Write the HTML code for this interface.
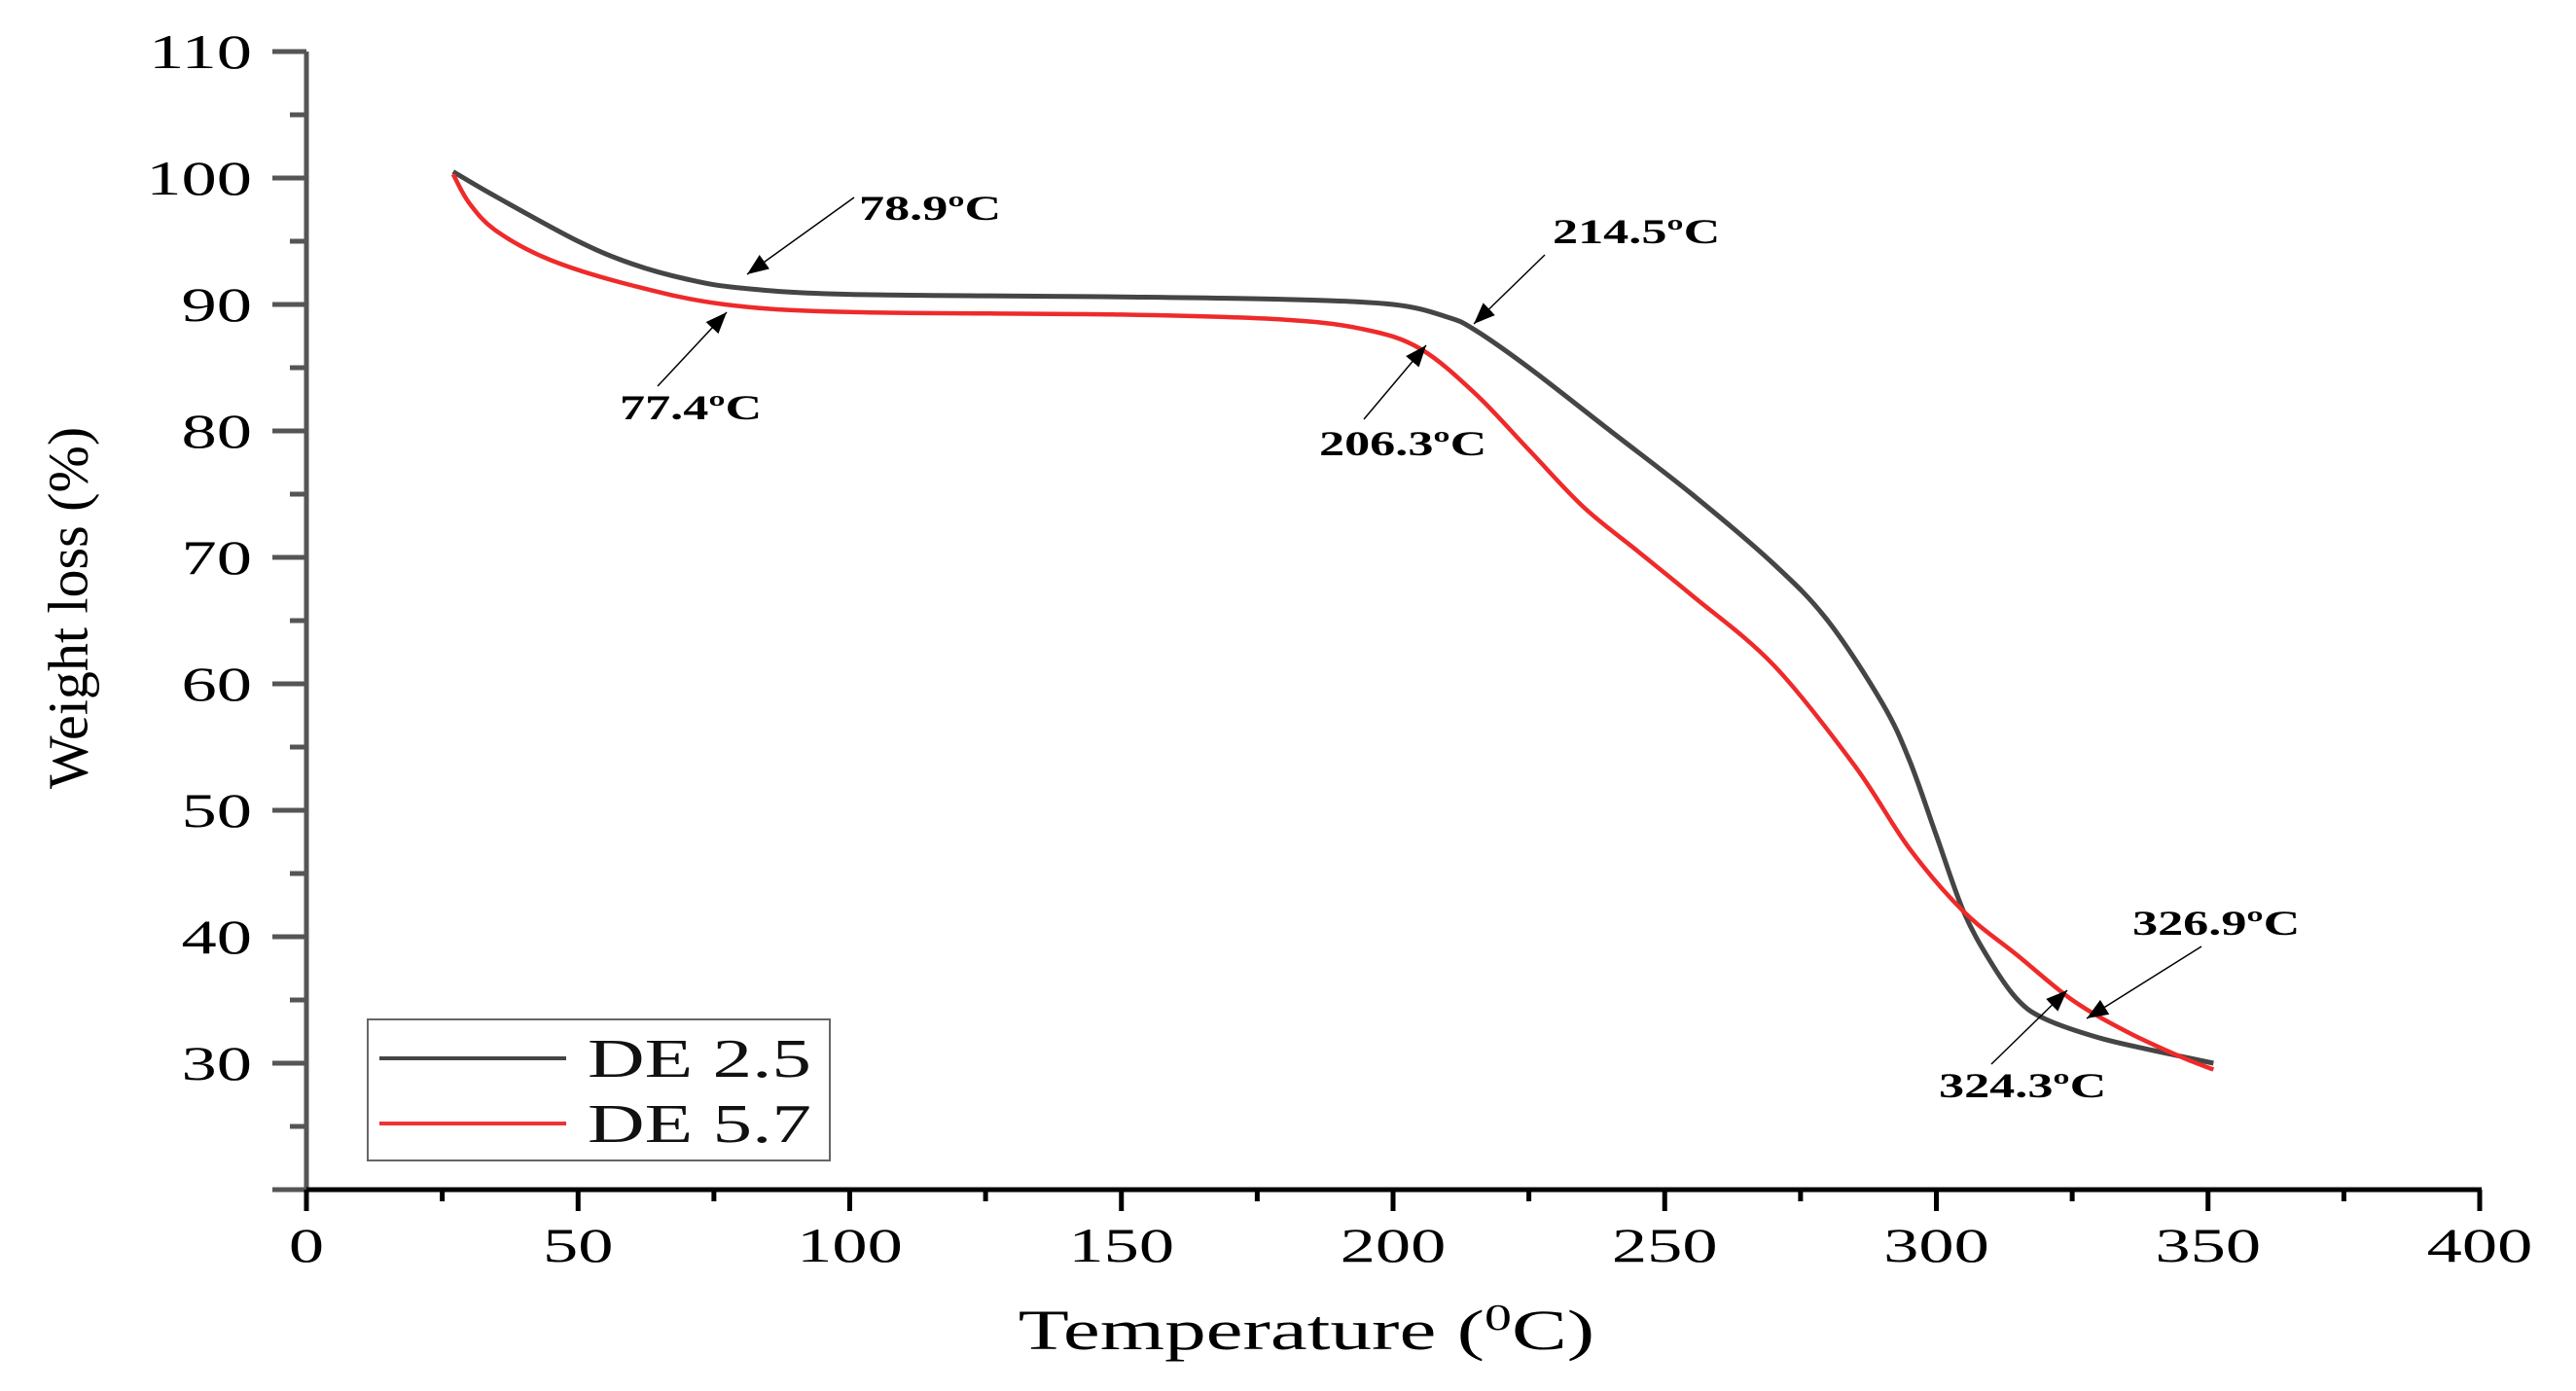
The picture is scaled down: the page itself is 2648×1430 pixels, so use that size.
<!DOCTYPE html>
<html><head><meta charset="utf-8"><style>
html,body{margin:0;padding:0;background:#fff;}
svg{display:block;font-family:"Liberation Serif",serif;}
</style></head><body>
<svg id="chart" width="2648" height="1430" viewBox="0 0 2648 1430">
<defs><marker id="ah" viewBox="0 0 10 10" refX="10" refY="5" markerWidth="22" markerHeight="22" markerUnits="userSpaceOnUse" orient="auto"><path d="M0,1 L10,5 L0,9 z" fill="#000"/></marker></defs>
<g id="axes"></g><g id="series"></g><g id="ann"></g>
<g>
<rect x="378" y="1048" width="475" height="145" fill="#fff" stroke="#666" stroke-width="2"/>
<line x1="390" y1="1088" x2="582" y2="1088" stroke="#454545" stroke-width="4"/>
<text x="604" y="1107" font-size="56" fill="#111" transform="translate(604 0) scale(1.45 1) translate(-604 0)">DE 2.5</text>
<line x1="390" y1="1155" x2="582" y2="1155" stroke="#ee3333" stroke-width="4"/>
<text x="604" y="1174" font-size="56" fill="#111" transform="translate(604 0) scale(1.45 1) translate(-604 0)">DE 5.7</text>
</g>
<text x="76" y="625" font-size="58" text-anchor="middle" transform="rotate(-90 76 625)" dominant-baseline="middle">Weight loss (%)</text>
<text x="1343" y="1387" font-size="58" text-anchor="middle" transform="translate(1343 0) scale(1.47 1) translate(-1343 0)">Temperature (<tspan font-size="38" dy="-20">0</tspan><tspan dy="20">C)</tspan></text>
</svg>
<script>
const xTicks=[0,50,100,150,200,250,300,350,400];
const yTicks=[30,40,50,60,70,80,90,100,110];
const de25T=[27,35,50,60,70,80,100,150,180,200,210,215,225,240,255,270,280,290,295,300,305,310,315,320,330,340,351];
const de25W=[100.5,98.5,95,93.2,92,91.3,90.8,90.6,90.4,90,89,88,85,80,75,69.5,65,58.5,54,48,42,38,35,33.5,32,31,30];
const de57T=[27,30,35,45,60,77,100,150,180,195,205,215,225,235,245,255,270,285,295,305,315,325,335,345,351];
const de57W=[100.3,98,95.8,93.5,91.5,90,89.4,89.2,88.8,88,86.5,83,78.5,74,70.5,67,61.5,53.5,47,42,38.5,35,32.5,30.5,29.5];
const annLabels=["78.9ºC","77.4ºC","214.5ºC","206.3ºC","326.9ºC","324.3ºC"];
const NS="http://www.w3.org/2000/svg";
const X=v=>315+v*(2549-315)/400;
const Y=v=>1223-(v-20)*13.0;
const SX=1.45;
function mk(t,a,p){const e=document.createElementNS(NS,t);for(const k in a)e.setAttribute(k,a[k]);p.appendChild(e);return e;}
function stretch(e,x){e.setAttribute('transform',`translate(${x} 0) scale(${SX} 1) translate(${-x} 0)`);}
const ax=document.getElementById('axes');
const yl=mk('line',{x1:315,y1:Y(110),x2:315,y2:Y(20),stroke:'#555','stroke-width':5},ax);


const xl=mk('line',{x1:313,y1:Y(20),x2:2551,y2:Y(20),stroke:'#000','stroke-width':5},ax);


for(let v=20;v<=110;v+=5){const major=v%10===0;mk('line',{x1:major?280:298,y1:Y(v),x2:315,y2:Y(v),stroke:'#555','stroke-width':5},ax);}
yTicks.forEach(v=>{const t=mk('text',{x:259,y:Y(v)+17,'font-size':50,'text-anchor':'end'},ax);t.textContent=v;stretch(t,259);

});
for(let v=0;v<=400;v+=25){const major=v%50===0;mk('line',{x1:X(v),y1:Y(20),x2:X(v),y2:Y(20)+(major?22:12),stroke:'#000','stroke-width':5},ax);}
xTicks.forEach(v=>{const t=mk('text',{x:X(v),y:1297,'font-size':50,'text-anchor':'middle'},ax);t.textContent=v;stretch(t,X(v));

});
function path(T,W){const p=T.map((t,i)=>[X(t),Y(W[i])]);let d=`M${p[0][0]},${p[0][1]}`;
for(let i=0;i<p.length-1;i++){const p0=p[Math.max(0,i-1)],p1=p[i],p2=p[i+1],p3=p[Math.min(p.length-1,i+2)];
d+=` C${p1[0]+(p2[0]-p0[0])/6},${p1[1]+(p2[1]-p0[1])/6} ${p2[0]-(p3[0]-p1[0])/6},${p2[1]-(p3[1]-p1[1])/6} ${p2[0]},${p2[1]}`;}return d;}
const sg=document.getElementById('series');
const s1=mk('path',{d:path(de25T,de25W),fill:'none',stroke:'#454545','stroke-width':5},sg);


const s2=mk('path',{d:path(de57T,de57W),fill:'none',stroke:'#ee2a2a','stroke-width':4.5},sg);


const ag=document.getElementById('ann');
const annPos=[[883,226,878,203,768,282],[637,431,676,397,747,321],[1596,250,1588,262,1515,333],[1356,468,1402,431,1466,355],[2192,961,2263,973,2145,1047],[1993,1128,2047,1094,2125,1018]];
annLabels.forEach((s,i)=>{const a=annPos[i];
const l=mk('line',{x1:a[2],y1:a[3],x2:a[4],y2:a[5],stroke:'#000','stroke-width':1.5,'marker-end':'url(#ah)'},ag);


const t=mk('text',{x:a[0],y:a[1],'font-size':36,'font-weight':'bold'},ag);t.textContent=s;stretch(t,a[0]);

});
</script>
</body></html>
